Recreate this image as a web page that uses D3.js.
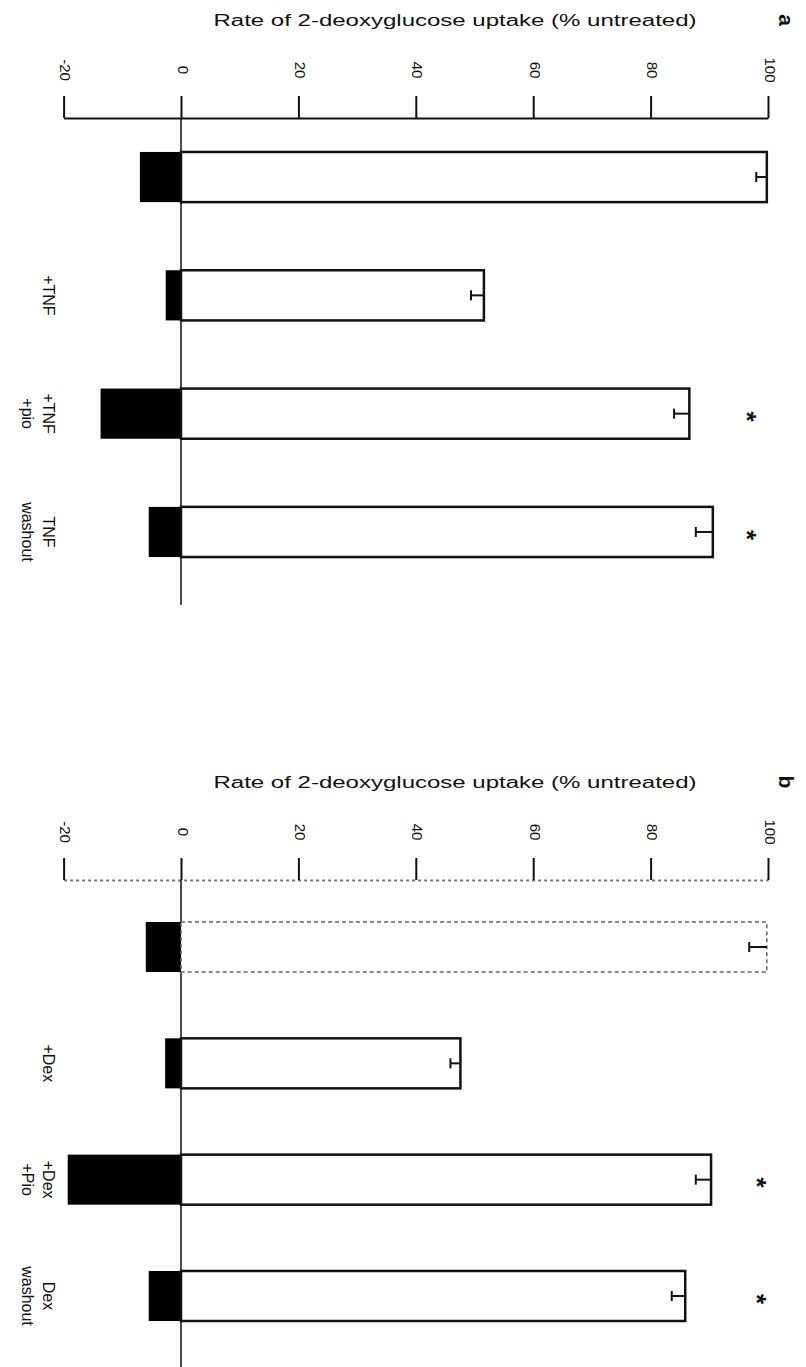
<!DOCTYPE html>
<html><head><meta charset="utf-8">
<script src="https://cdn.jsdelivr.net/npm/d3@7"></script>
<style>body{margin:0;background:#fff}svg{display:block}text{font-family:"Liberation Sans",Arial,sans-serif;fill:#111}</style>
</head><body><div id="chart"></div>
<script>
// ---- data ----
const ticks = [-20, 0, 20, 40, 60, 80, 100];
const titleText = "Rate of 2-deoxyglucose uptake (% untreated)";
const catsA = ["ctrl", "tnf", "tnfpio", "tnfwash"];
const labelsA = [[], ["+TNF"], ["+TNF", "+pio"], ["TNF", "washout"]];
const whiteA = [99.8, 51.6, 86.6, 90.6];
const blackA = [-7.0, -2.6, -13.7, -5.5];
const errA = [1.8, 2.2, 2.6, 2.9];
const sigA = [false, false, true, true];

const catsB = ["ctrl", "dex", "dexpio", "dexwash"];
const labelsB = [[], ["+Dex"], ["+Dex", "+Pio"], ["Dex", "washout"]];
const whiteB = [99.8, 47.6, 90.3, 85.9];
const blackB = [-6.0, -2.7, -19.3, -5.5];
const errB = [3.0, 1.7, 2.6, 2.3];
const sigB = [false, false, true, true];

const W = 806, H = 1367;
const svg = d3.select("#chart").append("svg").attr("width", W).attr("height", H);

const x = d3.scaleLinear().domain([-20, 100]).range([181 - 20 * 5.87, 768]);

function panel(o) {
  const g = svg.append("g");
  const y = d3.scaleBand().domain(o.cats).range([o.axisY, o.endY])
    .paddingInner(o.pin).paddingOuter(o.pout);

  // title
  g.append("text").attr("x", 455).attr("y", o.axisY - 92)
    .attr("text-anchor", "middle").attr("font-size", 16)
    .attr("textLength", 483).attr("lengthAdjust", "spacingAndGlyphs")
    .text(titleText);
  // panel letter
  g.append("text").attr("transform", `translate(785,${o.axisY - 98}) rotate(90)`)
    .attr("text-anchor", "middle").attr("dominant-baseline", "middle")
    .attr("font-size", 21).attr("font-weight", "bold").text(o.letter);

  // axis
  const axis = d3.axisTop(x).tickValues(ticks).tickSize(22).tickSizeOuter(0)
    .tickFormat(d => String(d));
  const ag = g.append("g").attr("transform", `translate(0,${o.axisY})`).call(axis);
  ag.select(".domain").attr("stroke", o.faint ? "#777" : "#111").attr("stroke-width", 2)
    .attr("stroke-dasharray", o.faint ? "3,3" : null);
  ag.selectAll(".tick line").attr("stroke", "#111").attr("stroke-width", 2);
  ag.selectAll(".tick text")
    .attr("y", 0).attr("dy", 0)
    .attr("transform", "translate(0,-48) rotate(90)")
    .attr("text-anchor", "middle").attr("dominant-baseline", "middle")
    .attr("font-size", 15).attr("fill", "#111").attr("font-family", "Liberation Sans, Arial, sans-serif");

  // zero line
  g.append("line").attr("x1", x(0)).attr("x2", x(0))
    .attr("y1", o.axisY).attr("y2", o.endY + 14).attr("stroke", "#111").attr("stroke-width", 1.5);

  const bw = y.bandwidth();
  o.cats.forEach((c, i) => {
    const y0 = y(c);
    // black (negative) bar
    g.append("rect").attr("x", x(o.black[i])).attr("y", y0)
      .attr("width", x(0) - x(o.black[i])).attr("height", bw).attr("fill", "#000");
    // white bar
    const faintBar = o.faint && i === 0;
    g.append("rect").attr("x", x(0)).attr("y", y0)
      .attr("width", x(o.white[i]) - x(0)).attr("height", bw)
      .attr("fill", "#fff").attr("stroke", faintBar ? "#666" : "#111")
      .attr("stroke-width", faintBar ? 1.5 : 2.5)
      .attr("stroke-dasharray", faintBar ? "4,3" : null);
    // error bar (drawn inward)
    const cy = y0 + bw / 2;
    const xe = x(o.white[i] - o.err[i]);
    g.append("line").attr("x1", x(o.white[i])).attr("x2", xe)
      .attr("y1", cy).attr("y2", cy).attr("stroke", "#111").attr("stroke-width", 2);
    g.append("line").attr("x1", xe).attr("x2", xe)
      .attr("y1", cy - 5).attr("y2", cy + 5).attr("stroke", "#111").attr("stroke-width", 2);
    // significance
    if (o.sig[i]) {
      g.append("text").attr("transform", `translate(${o.starX},${cy + 3}) rotate(90)`)
        .attr("text-anchor", "middle").attr("dominant-baseline", "central")
        .attr("font-size", 26).attr("font-weight", "bold").text("*");
    }
    // category labels
    o.labels[i].forEach((t, j) => {
      g.append("text").attr("transform", `translate(${48 - j * 21},${cy}) rotate(90)`)
        .attr("text-anchor", "middle").attr("dominant-baseline", "central")
        .attr("font-size", 16).text(t);
    });
  });
}

panel({cats: catsA, labels: labelsA, white: whiteA, black: blackA, err: errA, sig: sigA,
  axisY: 118, endY: 591, pin: 0.576, pout: 0.287, letter: "a", starX: 747, faint: false});
panel({cats: catsB, labels: labelsB, white: whiteB, black: blackB, err: errB, sig: sigB,
  axisY: 880, endY: 1363, pin: 0.57, pout: 0.361, letter: "b", starX: 757, faint: true});
</script></body></html>
